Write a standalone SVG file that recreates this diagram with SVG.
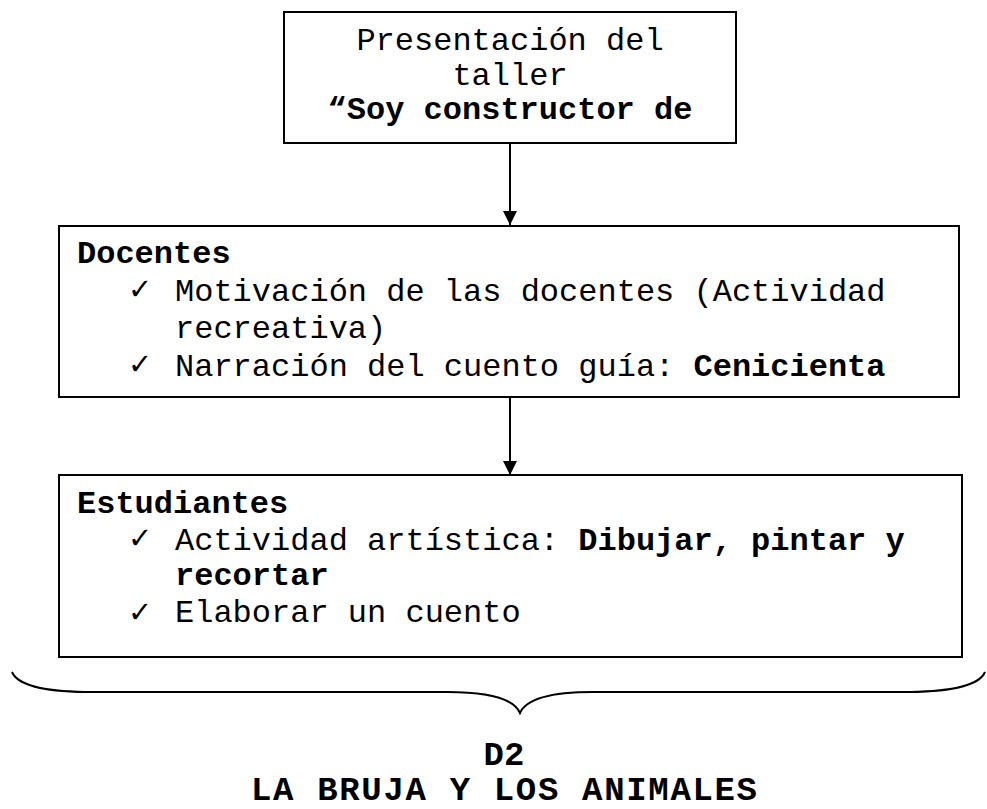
<svg xmlns="http://www.w3.org/2000/svg" width="987" height="809" viewBox="0 0 987 809">
<defs>
<style>
.box{fill:#fff;stroke:#000;stroke-width:2}
.t{font-family:"Liberation Mono","Courier New",monospace;font-size:32px;fill:#000}
.b{font-weight:bold}
.ck{font-family:"DejaVu Sans",sans-serif;font-size:29px;font-weight:bold;fill:#000}
.ttl{font-family:"Liberation Mono","Courier New",monospace;font-size:34px;font-weight:bold;fill:#000;text-anchor:middle}
.edge{stroke:#000;stroke-width:2;fill:none}
</style>
<marker id="arr" viewBox="0 0 14 16" refX="14" refY="8" markerWidth="14" markerHeight="16" markerUnits="userSpaceOnUse" orient="auto">
<path d="M0,1 L14,8 L0,15 Z" fill="#000"/>
</marker>
</defs>
<rect width="987" height="809" fill="#fff"/>
<g id="connectors">
<line class="edge" x1="510" y1="143" x2="510" y2="225" marker-end="url(#arr)"/>
<line class="edge" x1="510" y1="397" x2="510" y2="475" marker-end="url(#arr)"/>
</g>
<g id="presentacion">
<rect class="box" x="284" y="12" width="452" height="131"/>
<text class="t" x="510" y="50" text-anchor="middle">Presentación del</text>
<text class="t" x="510" y="85" text-anchor="middle">taller</text>
<text class="t b" x="510" y="119" text-anchor="middle">“Soy constructor de</text>
</g>
<g id="docentes">
<rect class="box" x="59" y="226" width="900" height="171"/>
<text class="t b" x="77" y="263">Docentes</text>
<text class="ck" x="128" y="299">✓</text>
<text class="t" x="175" y="301">Motivación de las docentes (Actividad</text>
<text class="t" x="175" y="338">recreativa)</text>
<text class="ck" x="128" y="374">✓</text>
<text class="t" x="175" y="376">Narración del cuento guía: <tspan class="b">Cenicienta</tspan></text>
</g>
<g id="estudiantes">
<rect class="box" x="59" y="475" width="903" height="182"/>
<text class="t b" x="77" y="513">Estudiantes</text>
<text class="ck" x="128" y="548">✓</text>
<text class="t" x="175" y="550">Actividad artística: <tspan class="b">Dibujar, pintar y</tspan></text>
<text class="t b" x="175" y="585">recortar</text>
<text class="ck" x="128" y="622">✓</text>
<text class="t" x="175" y="622">Elaborar un cuento</text>
</g>
<g id="brace">
<path class="edge" stroke-width="1.8" d="M12,672 Q20,691 85,692 L447,692 C490,692 514,699 520,713 C526,699 550,692 593,692 L910,692 Q977,691 985,672"/>
</g>
<g id="titulo">
<text class="ttl" x="504" y="765">D2</text>
<text class="ttl" x="504" y="800" textLength="506" lengthAdjust="spacing">LA BRUJA Y LOS ANIMALES</text>
</g>
</svg>
